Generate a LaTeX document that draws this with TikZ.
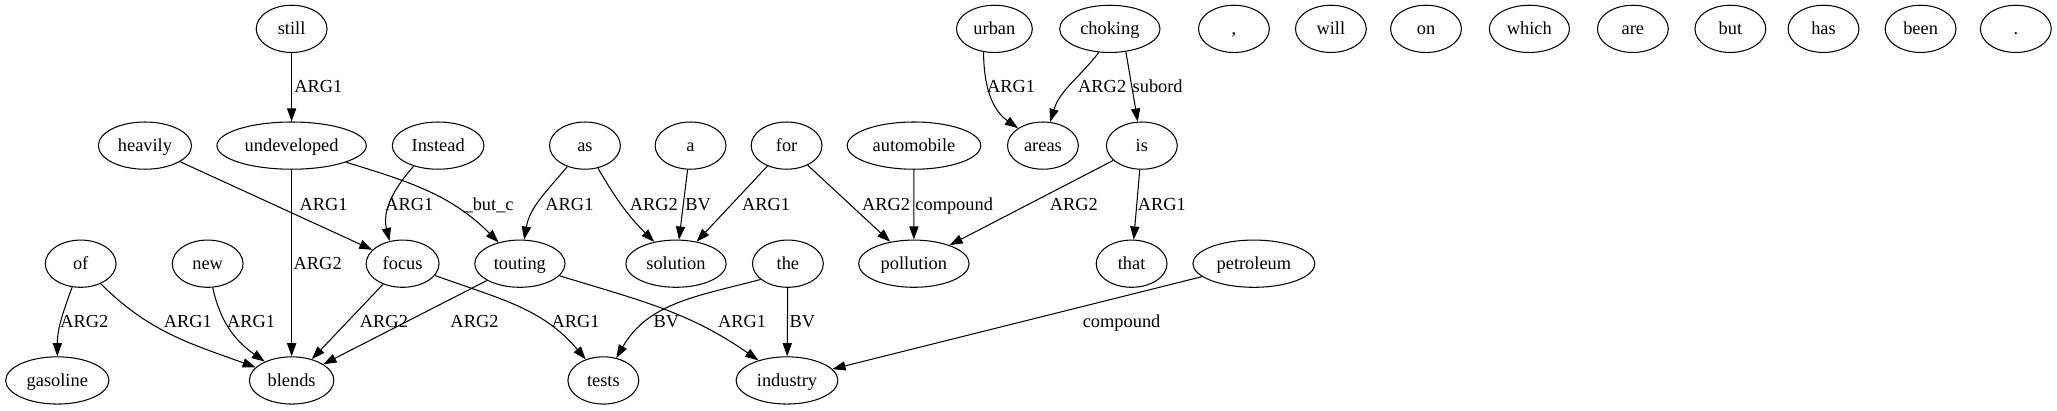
\documentclass[tikz,border=0pt]{standalone}
\usepackage{fontspec}
\setmainfont{Liberation Serif}
\usetikzlibrary{arrows.meta,shapes.geometric}
\newcommand{\gvfont}{\fontsize{14}{16}\selectfont}

\begin{document}
\begin{tikzpicture}[
  x=1pt, y=1pt,
  word/.style={draw, ellipse, line width=0.8pt, minimum width=54pt, minimum height=36pt,
               inner xsep=4.5pt, inner ysep=1pt, text height=11pt, text depth=2pt, font=\gvfont},
  arr/.style={-{Triangle[length=10pt,width=7pt]}, line width=0.8pt},
  lbl/.style={anchor=west, inner sep=0pt, text height=11pt, text depth=2pt, font=\gvfont}
]
  \useasboundingbox (0,0) rectangle (1568,-313);

  % top row
  \node[word] (still) at (222.3,-22) {still};
  \node[word] (urban) at (758,-22) {urban};
  \node[word] (choking) at (846,-22) {choking};
  \node[word] (comma) at (940.6,-22) {,};
  \node[word] (will) at (1014.5,-22) {will};
  \node[word] (on) at (1087,-22) {on};
  \node[word] (which) at (1165.8,-22) {which};
  \node[word] (are) at (1244.7,-22) {are};
  \node[word] (but) at (1319,-22) {but};
  \node[word] (has) at (1390,-22) {has};
  \node[word] (been) at (1464,-22) {been};
  \node[word] (dot) at (1536.6,-22) {.};

  % second row
  \node[word] (heavily) at (110.5,-111) {heavily};
  \node[word] (undev) at (222.3,-111) {undeveloped};
  \node[word] (instead) at (334,-111) {Instead};
  \node[word] (as) at (445.9,-111) {as};
  \node[word] (a) at (526.4,-111) {a};
  \node[word] (for) at (599.6,-111) {for};
  \node[word] (auto) at (696.7,-111) {automobile};
  \node[word] (areas) at (795,-111) {areas};
  \node[word] (is) at (870.4,-111) {is};

  % third row
  \node[word] (of) at (61.5,-201) {of};
  \node[word] (new) at (158.3,-201) {new};
  \node[word] (focus) at (306.9,-201) {focus};
  \node[word] (touting) at (396.3,-201) {touting};
  \node[word] (solution) at (515.3,-201) {solution};
  \node[word] (the) at (600.6,-201) {the};
  \node[word] (pollution) at (696.6,-201) {pollution};
  \node[word] (that) at (862.6,-201) {that};
  \node[word] (petrol) at (955.8,-201) {petroleum};

  % bottom row
  \node[word] (gasoline) at (43.7,-290) {gasoline};
  \node[word] (blends) at (222.3,-290) {blends};
  \node[word] (tests) at (459.9,-290) {tests};
  \node[word] (industry) at (599.9,-290) {industry};

  % edges, top to second row
  \draw[arr] (still) -- (undev) node[lbl] at (224,-66) {ARG1};
  \draw[arr] (urban.-115) to[out=-90,in=145] (areas) node[lbl] at (752,-66) {ARG1};
  \draw[arr] (choking.-115) to[out=-128,in=73] (areas) node[lbl] at (821.5,-66) {ARG2};
  \draw[arr] (choking.-55) -- (is) node[lbl] at (863,-66) {subord};

  % second to third row
  \draw[arr] (heavily) -- (focus) node[lbl] at (228,-156) {ARG1};
  \draw[arr] (undev) -- (blends) node[lbl] at (223.5,-201) {ARG2};
  \draw[arr] (instead.-140) to[out=-132,in=104] (focus.120) node[lbl] at (293.4,-156) {ARG1};
  \draw[arr] (undev) to[out=-17,in=135] (touting) node[lbl] at (353,-156) {\_but\_c};
  \draw[arr] (as) to[out=-130,in=80] (touting) node[lbl] at (415.4,-156) {ARG1};
  \draw[arr] (as) to[out=-60,in=135] (solution) node[lbl] at (479.7,-156) {ARG2};
  \draw[arr] (a) -- (solution) node[lbl] at (522,-156) {BV};
  \draw[arr] (for) -- (solution) node[lbl] at (565.3,-156) {ARG1};
  \draw[arr] (for) -- (pollution) node[lbl] at (656.8,-156) {ARG2};
  \draw[arr] (auto) -- (pollution) node[lbl] at (697.4,-156) {compound};
  \draw[arr] (is) -- (pollution) node[lbl] at (799.8,-156) {ARG2};
  \draw[arr] (is) -- (that) node[lbl] at (867,-156) {ARG1};

  % third to bottom row
  \draw[arr] (of) to[out=-110,in=90] (gasoline) node[lbl] at (45.7,-245) {ARG2};
  \draw[arr] (of) to[out=-45,in=160] (blends) node[lbl] at (124.5,-245) {ARG1};
  \draw[arr] (new) to[out=-78,in=145] (blends) node[lbl] at (172.8,-245) {ARG1};
  \draw[arr] (focus) -- (blends) node[lbl] at (274,-245) {ARG2};
  \draw[arr] (touting) -- (blends) node[lbl] at (343,-245) {ARG2};
  \draw[arr] (focus) to[out=-20,in=130] (tests) node[lbl] at (420,-245) {ARG1};
  \draw[arr] (the.-150) to[out=-165,in=60] (tests) node[lbl] at (497.8,-245) {BV};
  \draw[arr] (touting) to[out=-17,in=145] (industry) node[lbl] at (547,-245) {ARG1};
  \draw[arr] (the) -- (industry) node[lbl] at (601.5,-245) {BV};
  \draw[arr] (petrol) -- (industry) node[lbl] at (825,-245) {compound};
\end{tikzpicture}
\end{document}
